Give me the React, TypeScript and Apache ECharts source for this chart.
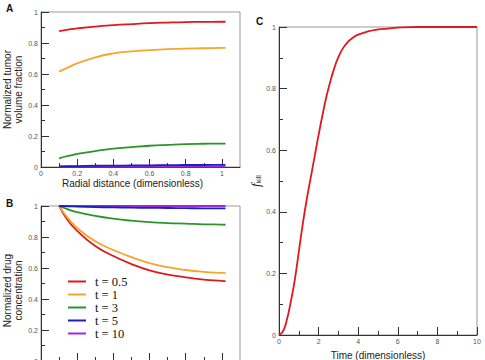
import React, { useEffect, useRef } from 'react';
import * as echarts from 'echarts';

// ---------- data ----------
const seriesNames = ['t = 0.5', 't = 1', 't = 3', 't = 5', 't = 10'];
const seriesColors = ['#e0191f', '#f4a62a', '#2a962a', '#1e1ec2', '#9a2bd6'];

const radial = [0.1, 0.15, 0.2, 0.3, 0.4, 0.5, 0.6, 0.7, 0.8, 0.9, 1.0, 1.02];

// Panel A: normalized tumor volume fraction
const tumorT05 = [0.877, 0.886, 0.894, 0.906, 0.915, 0.922, 0.928, 0.932, 0.935, 0.936, 0.937, 0.937];
const tumorT1 = [0.615, 0.643, 0.668, 0.708, 0.733, 0.746, 0.754, 0.76, 0.764, 0.766, 0.768, 0.768];
const tumorT3 = [0.056, 0.071, 0.084, 0.103, 0.118, 0.128, 0.137, 0.143, 0.148, 0.15, 0.151, 0.151];
const tumorT5 = [0.004, 0.005, 0.006, 0.008, 0.009, 0.01, 0.011, 0.012, 0.013, 0.013, 0.014, 0.014];
const tumorT10 = [0.002, 0.002, 0.002, 0.002, 0.002, 0.002, 0.002, 0.002, 0.002, 0.002, 0.002, 0.002];

// Panel B: normalized drug concentration
const drugT05 = [1, 0.905, 0.84, 0.742, 0.677, 0.625, 0.585, 0.558, 0.54, 0.525, 0.517, 0.515];
const drugT1 = [1, 0.92, 0.858, 0.772, 0.716, 0.67, 0.632, 0.605, 0.587, 0.575, 0.568, 0.567];
const drugT3 = [1, 0.978, 0.96, 0.936, 0.918, 0.905, 0.896, 0.89, 0.886, 0.882, 0.88, 0.879];
const drugT5 = [1, 0.998, 0.996, 0.993, 0.991, 0.989, 0.988, 0.987, 0.986, 0.985, 0.985, 0.985];
const drugT10 = [1, 1, 1, 1, 1, 1, 1, 1, 1, 1, 1, 1];

// Panel C: f_kill over time
const timeValues = [0, 0.2, 0.4, 0.6, 0.8, 1.0, 1.2, 1.4, 1.6, 1.8, 2.0, 2.2, 2.4, 2.6, 2.8, 3.0, 3.25, 3.5, 3.75, 4.0, 4.5, 5.0, 5.5, 6.0, 7.0, 8.0, 10.0];
const fKill = [0, 0.012, 0.05, 0.11, 0.18, 0.27, 0.36, 0.44, 0.51, 0.58, 0.65, 0.715, 0.775, 0.825, 0.868, 0.902, 0.933, 0.953, 0.966, 0.975, 0.986, 0.992, 0.995, 0.998, 1, 1, 1];

// tick labels
const radialMajorTicks = [0, 0.2, 0.4, 0.6, 0.8, 1];
const radialMinorTicks = [0.1, 0.3, 0.5, 0.7, 0.9];

// ---------- styles ----------
const FONT = "'Liberation Sans', Arial, sans-serif";
const axisColor = '#333';
const labelStyle = { fontSize: 7, color: '#555', fontFamily: FONT, margin: 3 };
const nameStyle = { fontSize: 10, color: '#222', fontFamily: FONT, lineHeight: 11 };

function radialXAxes(gridIndex: number, withName: boolean) {
  return [
    {
      type: 'value', gridIndex, position: 'bottom', min: 0, max: 1.1,
      name: withName ? 'Radial distance (dimensionless)' : '',
      nameLocation: 'middle', nameGap: 11,
      nameTextStyle: { ...nameStyle, padding: [0, 16, 0, 0] },
      axisLine: { show: true, lineStyle: { color: axisColor, width: 1 } },
      axisTick: { show: true, inside: true, length: 8, customValues: radialMajorTicks, lineStyle: { color: axisColor } },
      axisLabel: { ...labelStyle, show: withName, customValues: radialMajorTicks },
      splitLine: { show: false },
    },
    {
      type: 'value', gridIndex, position: 'bottom', min: 0, max: 1.1,
      axisLine: { show: false },
      axisTick: { show: true, inside: true, length: 4, customValues: radialMinorTicks, lineStyle: { color: axisColor } },
      axisLabel: { show: false },
      splitLine: { show: false },
    },
  ];
}

function unitYAxis(gridIndex: number, name: any, nameGap: number, nameTextStyle: any) {
  return {
    type: 'value', gridIndex, min: 0, max: 1, interval: 0.2,
    name, nameLocation: 'middle', nameGap, nameTextStyle,
    axisLine: { show: true, lineStyle: { color: axisColor, width: 1 } },
    axisTick: { show: true, inside: true, length: 8, lineStyle: { color: axisColor } },
    minorTick: { show: true, splitNumber: 2, length: 4, lineStyle: { color: axisColor } },
    axisLabel: { ...labelStyle },
    splitLine: { show: false },
  };
}

function lineSeries(name: string, color: string, xs: number[], ys: number[], xi: number, yi: number, z = 2) {
  return {
    type: 'line', name, xAxisIndex: xi, yAxisIndex: yi, z,
    data: xs.map((x, i) => [x, ys[i]]),
    smooth: 0.5, showSymbol: false, symbol: 'none',
    lineStyle: { color, width: 1.8 },
    itemStyle: { color },
  };
}

export default function App() {
  const ref = useRef<HTMLDivElement>(null);
  useEffect(() => {
    if (!ref.current) return;
    const chart = echarts.init(ref.current, undefined, { renderer: 'svg' });
    const tumor = [tumorT05, tumorT1, tumorT3, tumorT5, tumorT10];
    const drug = [drugT05, drugT1, drugT3, drugT5, drugT10];
    const series: any[] = [];
    seriesNames.forEach((n, i) => {
      series.push(lineSeries(n, seriesColors[i], radial, tumor[i], 0, 0, i === 4 ? 1 : 2));
    });
    seriesNames.forEach((n, i) => {
      series.push(lineSeries(n, seriesColors[i], radial, drug[i], 2, 1, i === 4 ? 1 : 2));
    });
    series.push(lineSeries('fkill', '#e0191f', timeValues, fKill, 4, 2));

    const gridBase = { show: true, borderColor: '#999', borderWidth: 1, backgroundColor: 'transparent', containLabel: false, outerBoundsMode: 'none' };

    chart.setOption({
      animation: false,
      textStyle: { fontFamily: FONT },
      grid: [
        { ...gridBase, left: 41, top: 12, width: 199, height: 155 },
        { ...gridBase, left: 41, top: 206, width: 199, height: 155 },
        { ...gridBase, left: 279, top: 27, width: 198, height: 308 },
      ],
      xAxis: [
        ...radialXAxes(0, true),
        ...radialXAxes(1, false),
        {
          type: 'value', gridIndex: 2, min: 0, max: 10, interval: 2,
          name: 'Time (dimensionless)', nameLocation: 'middle', nameGap: 11,
          nameTextStyle: { ...nameStyle },
          axisLine: { show: true, lineStyle: { color: axisColor, width: 1 } },
          axisTick: { show: true, inside: true, length: 8, lineStyle: { color: axisColor } },
          minorTick: { show: true, splitNumber: 2, length: 4, lineStyle: { color: axisColor } },
          axisLabel: { ...labelStyle },
          splitLine: { show: false },
        },
      ],
      yAxis: [
        unitYAxis(0, 'Normalized tumor\nvolume fraction', 15, { ...nameStyle }),
        unitYAxis(1, 'Normalized drug\nconcentration', 15, { ...nameStyle, padding: [0, 14, 0, 0] }),
        unitYAxis(2, '{f|f}{s|kill}', 14, {
          rich: {
            f: { fontSize: 13, fontStyle: 'italic', fontFamily: "'Liberation Serif', serif", color: '#222' },
            s: { fontSize: 7, fontFamily: FONT, color: '#222', verticalAlign: 'bottom', padding: [5, 0, 0, 0] },
          },
        }),
      ],
      legend: {
        data: seriesNames,
        orient: 'vertical',
        left: 68, top: 275,
        padding: 0,
        itemGap: 0,
        itemWidth: 18, itemHeight: 2,
        icon: 'rect',
        selectedMode: false,
        textStyle: { fontSize: 12.5, lineHeight: 13, color: '#111', fontFamily: "'Liberation Serif', 'Times New Roman', serif", padding: [0, 0, 0, 4] },
      },
      graphic: [
        { type: 'text', left: 6, top: 3, style: { text: 'A', fontSize: 10, fontWeight: 'bold', fill: '#111', fontFamily: FONT } },
        { type: 'text', left: 6, top: 198, style: { text: 'B', fontSize: 10, fontWeight: 'bold', fill: '#111', fontFamily: FONT } },
        { type: 'text', left: 256, top: 16, style: { text: 'C', fontSize: 10, fontWeight: 'bold', fill: '#111', fontFamily: FONT } },
      ],
      series,
    });
    return () => chart.dispose();
  }, []);
  return (
    <div
      ref={ref}
      style={{ position: 'fixed', left: 0, top: 0, width: 485, height: 360, background: '#fff' }}
    />
  );
}
